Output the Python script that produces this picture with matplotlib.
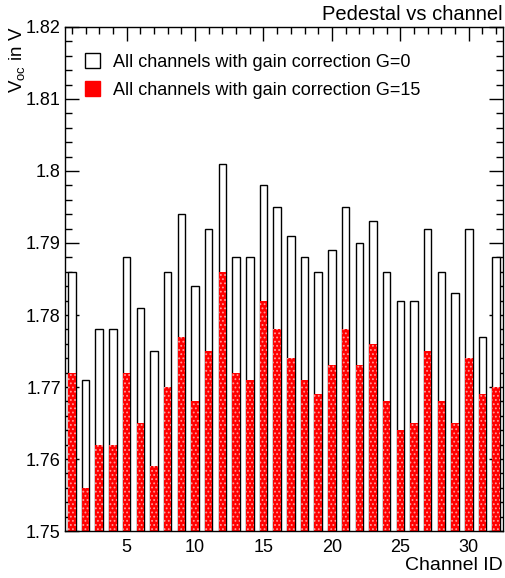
import numpy as np
import matplotlib
matplotlib.use("Agg")
import matplotlib.pyplot as plt
from matplotlib.patches import Patch
from matplotlib.ticker import MultipleLocator

plt.rcParams["font.family"] = ["Liberation Sans", "DejaVu Sans"]
plt.rcParams["mathtext.fontset"] = "custom"
plt.rcParams["mathtext.rm"] = "Liberation Sans"
plt.rcParams["mathtext.it"] = "Liberation Sans"

channels = list(range(1, 33))
vg0 = [1.786, 1.771, 1.778, 1.778, 1.788, 1.781, 1.775, 1.786,
       1.794, 1.784, 1.792, 1.801, 1.788, 1.788, 1.798, 1.795,
       1.791, 1.788, 1.786, 1.789, 1.795, 1.790, 1.793, 1.786,
       1.782, 1.782, 1.792, 1.786, 1.783, 1.792, 1.777, 1.788]
vg15 = [1.772, 1.756, 1.762, 1.762, 1.772, 1.765, 1.759, 1.770,
        1.777, 1.768, 1.775, 1.786, 1.772, 1.771, 1.782, 1.778,
        1.774, 1.771, 1.769, 1.773, 1.778, 1.773, 1.776, 1.768,
        1.764, 1.765, 1.775, 1.768, 1.765, 1.774, 1.769, 1.770]

ymin = 1.75
fig = plt.figure(figsize=(5.05, 5.78), dpi=100)
ax = fig.add_axes([0.1287, 0.0813, 0.8673, 0.872])

x = np.array(channels)
g0 = np.array(vg0)
g15 = np.array(vg15)
w = 0.55

ax.bar(x, g0 - ymin, bottom=ymin, width=w, facecolor="white",
       edgecolor="black", linewidth=1.0, zorder=2)
plt.rcParams["hatch.linewidth"] = 0.8
ax.bar(x, g15 - ymin, bottom=ymin, width=w, facecolor="#ff0000",
       edgecolor="#ff9a9a", hatch="....", linewidth=0, zorder=3)

ax.set_xlim(0.5, 32.5)
ax.set_ylim(1.75, 1.82)
ax.xaxis.set_major_locator(MultipleLocator(5))
ax.xaxis.set_minor_locator(MultipleLocator(1))
ax.yaxis.set_minor_locator(MultipleLocator(0.002))
ax.set_yticks(np.arange(1.75, 1.8201, 0.01))
ax.set_yticklabels(["1.75", "1.76", "1.77", "1.78", "1.79", "1.8", "1.81", "1.82"])
ax.tick_params(which="both", direction="in", top=True, right=True,
               labelsize=13, width=1)
ax.tick_params(which="major", length=10)
ax.tick_params(which="minor", length=5)
ax.tick_params(axis="x", pad=6)
ax.tick_params(axis="y", pad=3)
for s in ax.spines.values():
    s.set_linewidth(1.0)
    s.set_zorder(5)

handles = [Patch(facecolor="white", edgecolor="black", linewidth=1.0),
           Patch(facecolor="#ff0000", edgecolor="#ff0000")]
ax.legend(handles, ["All channels with gain correction G=0",
                    "All channels with gain correction G=15"],
          loc="upper left", bbox_to_anchor=(0.03, 0.962), frameon=False,
          fontsize=13, handlelength=0.83, handleheight=0.9,
          labelspacing=0.55, handletextpad=0.72, borderaxespad=0)

fig.text(0.996, 0.975, "Pedestal vs channel", ha="right", va="center", fontsize=14.5)
fig.text(0.996, 0.021, "Channel ID", ha="right", va="center", fontsize=14)
fig.text(0.034, 0.954, r"$\mathregular{V_{oc}}$ in V", rotation=90,
         ha="center", va="top", fontsize=13.5)

fig.savefig("out.png", dpi=100)
